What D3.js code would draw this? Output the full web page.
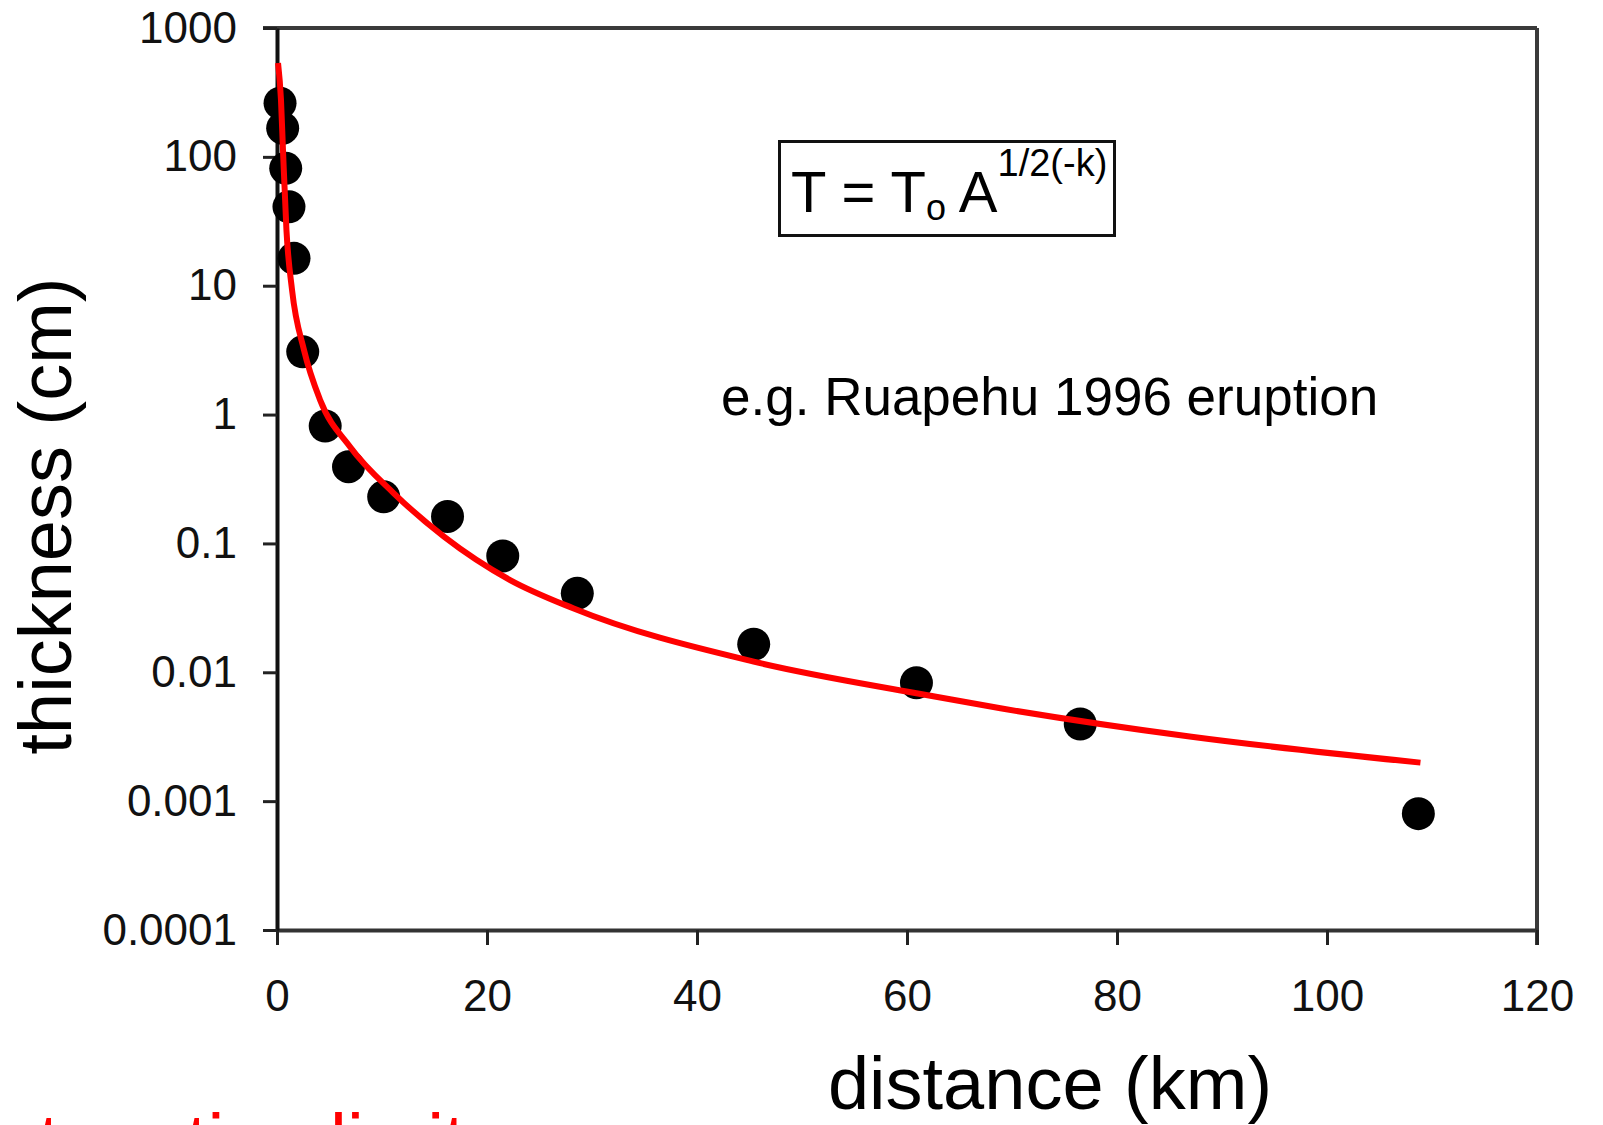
<!DOCTYPE html>
<html>
<head>
<meta charset="utf-8">
<script src="https://cdn.jsdelivr.net/npm/d3@7"></script>
<style>
  body { margin: 0; background: #fff; }
  svg { display: block; font-family: "Liberation Sans", Arial, sans-serif; }
</style>
</head>
<body>
<div id="container"></div>
<script>
// tephra thinning with distance

const width = 1603,
  height = 1125,
  margin = { top: 28, right: 66, bottom: 195, left: 277 }

// measured deposit thickness
const distKm = [0.29, 0.54, 0.83, 1.14, 1.62, 2.45, 4.59, 6.81, 10.16, 16.24, 21.5, 28.6, 45.4, 60.9, 76.5, 108.7]
const thickCm = [261, 167, 81.5, 41, 16.3, 3.07, 0.815, 0.394, 0.23, 0.162, 0.080, 0.041, 0.0165, 0.0083, 0.00397, 0.00080]

// red fit curve
const fitKm = [0.1, 0.38, 0.57, 0.9, 1.43, 2.57, 4.1, 6.95, 11.1, 15.9, 22.2, 28.2, 45.4, 60.9, 68.9, 87.1, 108.9]
const fitCm = [535, 276, 113, 27, 9.3, 3.17, 1.30, 0.563, 0.246, 0.113, 0.052, 0.0314, 0.0121, 0.00687, 0.00526, 0.00316, 0.00199]

// axis ticks
const xTicks = [0, 20, 40, 60, 80, 100, 120]
const yTicks = [0.0001, 0.001, 0.01, 0.1, 1, 10, 100, 1000]
const yTickLabels = ["0.0001", "0.001", "0.01", "0.1", "1", "10", "100", "1000"]

const points = distKm.map((d, i) => ({ x: d, y: thickCm[i] }))
const fit = fitKm.map((d, i) => ({ x: d, y: fitCm[i] }))

const xScale = d3.scaleLinear()
  .domain([0, 120])
  .range([margin.left, width - margin.right])

const yScale = d3.scaleLog()
  .domain([0.0001, 1000])
  .range([height - margin.bottom, margin.top])

const svg = d3.select("#container")
  .append("svg")
  .attr("width", width)
  .attr("height", height)

// top and right frame
svg.append("line")
  .attr("x1", margin.left - 14).attr("x2", width - margin.right)
  .attr("y1", margin.top).attr("y2", margin.top)
  .attr("stroke", "#3a3a3a").attr("stroke-width", 4)
svg.append("line")
  .attr("x1", width - margin.right).attr("x2", width - margin.right)
  .attr("y1", margin.top).attr("y2", height - margin.bottom + 15)
  .attr("stroke", "#3a3a3a").attr("stroke-width", 4)

// axes
const xAxis = d3.axisBottom(xScale)
  .tickValues(xTicks)
  .tickSize(15)
  .tickPadding(35)
  .tickSizeOuter(0)

const xAxisGroup = svg.append("g")
  .attr("class", "xAxis")
  .attr("transform", `translate(0, ${height - margin.bottom})`)
  .call(xAxis)

const yAxis = d3.axisLeft(yScale)
  .tickValues(yTicks)
  .tickFormat((d, i) => yTickLabels[i])
  .tickSize(14)
  .tickPadding(26)
  .tickSizeOuter(0)

const yAxisGroup = svg.append("g")
  .attr("class", "yAxis")
  .attr("transform", `translate(${margin.left}, 0)`)
  .call(yAxis)

xAxisGroup.select(".domain").attr("stroke", "#333").attr("stroke-width", 4)
yAxisGroup.select(".domain").attr("stroke", "#111").attr("stroke-width", 4)
svg.selectAll(".tick line").attr("stroke", "#222").attr("stroke-width", 3)
svg.selectAll(".tick text")
  .attr("font-size", 44)
  .attr("font-family", "Liberation Sans, Arial, sans-serif")
  .attr("fill", "#111")

// axis titles
svg.append("text")
  .attr("x", 1050)
  .attr("y", 1109)
  .attr("text-anchor", "middle")
  .attr("font-size", 74)
  .text("distance (km)")

svg.append("text")
  .attr("transform", `translate(71, 516) rotate(-90)`)
  .attr("text-anchor", "middle")
  .attr("font-size", 74)
  .text("thickness (cm)")

// data points
svg.selectAll(".dot")
  .data(points)
  .join("circle")
  .attr("class", "dot")
  .attr("cx", d => xScale(d.x))
  .attr("cy", d => yScale(d.y))
  .attr("r", 16.5)
  .attr("fill", "#000")

// fit line
const lineGen = d3.line()
  .x(d => xScale(d.x))
  .y(d => yScale(d.y))
  .curve(d3.curveMonotoneX)

svg.append("path")
  .datum(fit)
  .attr("fill", "none")
  .attr("stroke", "#ff0000")
  .attr("stroke-width", 6)
  .attr("d", lineGen)

// equation box
svg.append("rect")
  .attr("x", 779.5).attr("y", 141.5)
  .attr("width", 335).attr("height", 94)
  .attr("fill", "#fff")
  .attr("stroke", "#111")
  .attr("stroke-width", 3)

const eq = svg.append("text")
  .attr("x", 791)
  .attr("y", 212)
  .attr("font-size", 58)
  .attr("fill", "#000")
eq.append("tspan").text("T = T")
eq.append("tspan").attr("font-size", 36).attr("dy", 8).text("o")
eq.append("tspan").attr("dy", -8).text(" A")
eq.append("tspan").attr("font-size", 38).attr("dy", -36).text("1/2(-k)")

svg.append("text")
  .attr("x", 721)
  .attr("y", 415)
  .attr("font-size", 53)
  .attr("fill", "#000")
  .text("e.g. Ruapehu 1996 eruption")

// red caption, cut off by the bottom edge as in the original
svg.append("text")
  .attr("x", -46)
  .attr("y", 1167)
  .attr("font-size", 76)
  .attr("fill", "#ff0000")
  .text("detonation limit")
</script>
</body>
</html>
